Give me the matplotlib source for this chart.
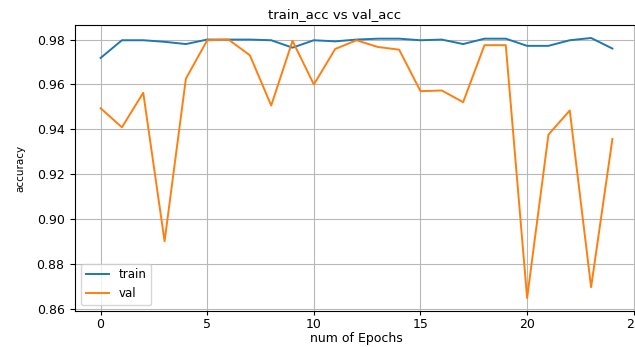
import numpy as np
import matplotlib.pyplot as plt

# accuracy per epoch
epochs = np.arange(25)
train_acc = [0.9718, 0.9797, 0.9797, 0.9790, 0.9780, 0.9800, 0.9800, 0.9800, 0.9797, 0.9764,
             0.9797, 0.9792, 0.9800, 0.9804, 0.9804, 0.9797, 0.9800, 0.9780, 0.9804, 0.9804,
             0.9772, 0.9772, 0.9797, 0.9807, 0.9760]
val_acc = [0.9494, 0.9409, 0.9563, 0.8901, 0.9626, 0.9797, 0.9800, 0.9730, 0.9506, 0.9794,
           0.9600, 0.9758, 0.9797, 0.9767, 0.9755, 0.9570, 0.9573, 0.9521, 0.9775, 0.9775,
           0.8648, 0.9376, 0.9484, 0.8696, 0.9357]

W, H = 635, 347
fig = plt.figure(figsize=(W / 100, H / 100), dpi=100)
left, right, top, bottom = 75, 638, 25, 311
ax = fig.add_axes([left / W, 1 - bottom / H, (right - left) / W, (bottom - top) / H])

ax.plot(epochs, train_acc, label='train', lw=1.4)
ax.plot(epochs, val_acc, label='val', lw=1.4)

# title sits a bit left of the axes centre in the reference
ax.set_title('train_acc vs val_acc', fontsize=9.5, x=(335 - left) / (right - left), pad=5)
ax.set_xlabel('num of Epochs', fontsize=9, labelpad=1)
ax.set_ylabel('accuracy', fontsize=7.5, labelpad=8)
ax.tick_params(axis='x', labelsize=9, length=3, pad=2)
ax.tick_params(axis='y', labelsize=9, length=3.5, pad=4)
ax.set_yticks([0.86, 0.88, 0.90, 0.92, 0.94, 0.96, 0.98])
ax.grid(True, color='#b8b8b8')
ax.legend(loc='lower left', fontsize=8.5)

fig.savefig('out.png', dpi=100)
